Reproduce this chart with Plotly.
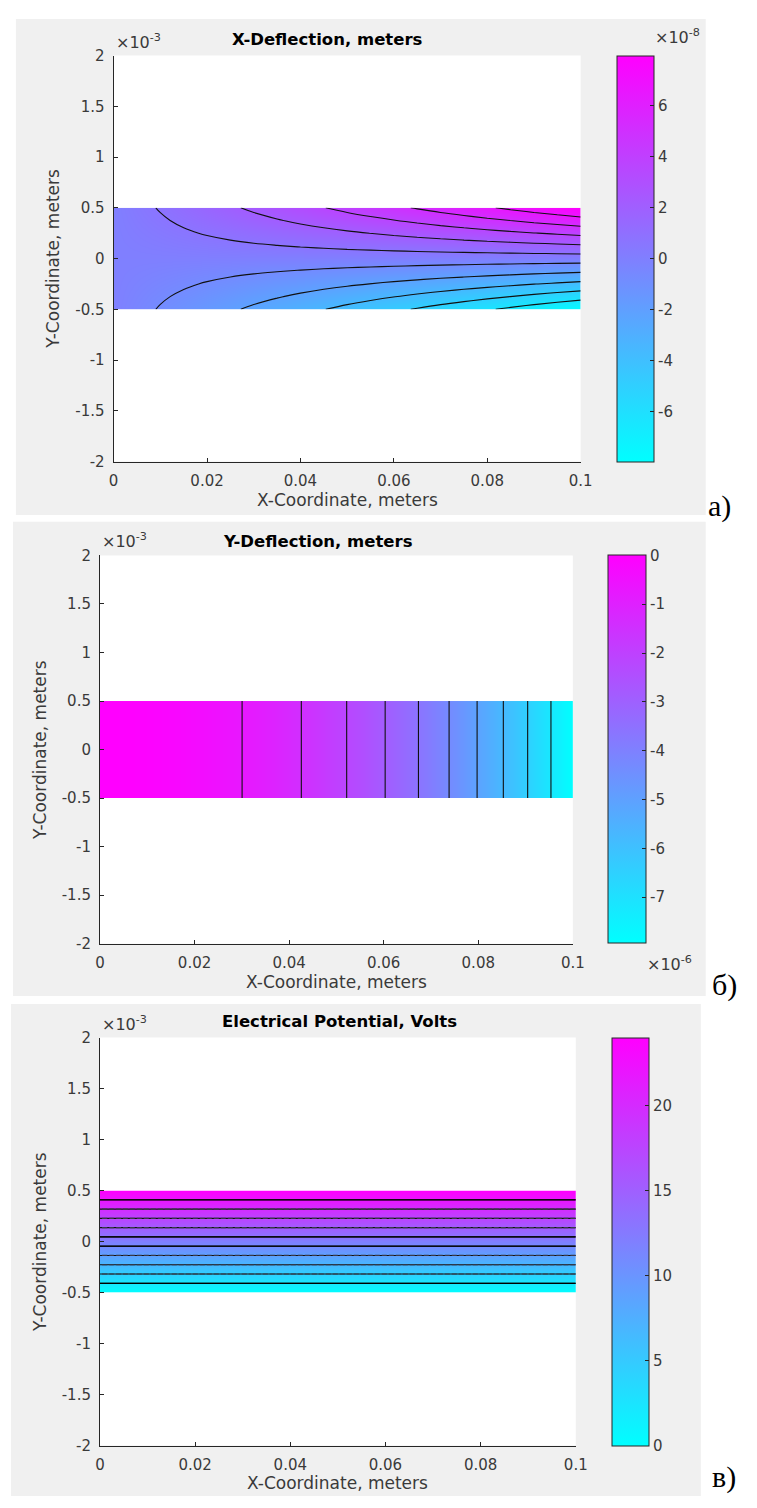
import plotly.graph_objects as go

# The page adds an 8 px body margin; the figure is sized so that page == 757x1508.
PAGE_W, PAGE_H, OFF = 757, 1508, 8
W, H = PAGE_W - 2 * OFF, PAGE_H - 2 * OFF

# ---------------- data ----------------
X_GRID = [0.0, 0.005, 0.01, 0.015, 0.02, 0.025, 0.03, 0.035, 0.04, 0.045, 0.05,
          0.055, 0.06, 0.065, 0.07, 0.075, 0.08, 0.085, 0.09, 0.095, 0.1]
Y_GRID = [-0.5e-3, -0.375e-3, -0.25e-3, -0.125e-3, 0.0, 0.125e-3, 0.25e-3, 0.375e-3, 0.5e-3]

# X-deflection (x1e-8 m) along the top face, and its through-thickness shape
UX_TOP = [0, 0.40, 0.80, 1.19, 1.59, 1.99, 2.39, 2.78, 3.18, 3.58, 3.98,
          4.37, 4.77, 5.17, 5.57, 5.96, 6.36, 6.76, 7.16, 7.55, 7.95]
UX_SHAPE = [-1, -0.75, -0.5, -0.25, 0, 0.25, 0.5, 0.75, 1]

# Y-deflection (x1e-6 m) along the beam (constant through thickness)
UY_ALONG = [0, -0.02, -0.08, -0.18, -0.32, -0.50, -0.72, -0.97, -1.27, -1.61, -1.99,
            -2.40, -2.86, -3.36, -3.90, -4.47, -5.09, -5.74, -6.44, -7.17, -7.95]

# Electrical potential (V) through the thickness (constant along the beam)
V_THICK = [0, 3, 6, 9, 12, 15, 18, 21, 24]
# which potential contour levels (1..10, bottom to top) look solid / dashed
V_SOLID_LEVELS = [1, 5, 6, 10]
V_DASHED_LEVELS = [2, 3, 4, 7, 8, 9]

X_TICKS = [0, 0.02, 0.04, 0.06, 0.08, 0.1]
X_TICKTEXT = ["0", "0.02", "0.04", "0.06", "0.08", "0.1"]
Y_TICKS = [-2e-3, -1.5e-3, -1e-3, -0.5e-3, 0, 0.5e-3, 1e-3, 1.5e-3, 2e-3]
Y_TICKTEXT = ["-2", "-1.5", "-1", "-0.5", "0", "0.5", "1", "1.5", "2"]

CB_A_TICKS = [-6, -4, -2, 0, 2, 4, 6]
CB_A_TEXT = ["-6", "-4", "-2", "0", "2", "4", "6"]
CB_B_TICKS = [0, -1, -2, -3, -4, -5, -6, -7]
CB_B_TEXT = ["0", "-1", "-2", "-3", "-4", "-5", "-6", "-7"]
CB_C_TICKS = [0, 5, 10, 15, 20]
CB_C_TEXT = ["0", "5", "10", "15", "20"]

TITLES = ["X-Deflection, meters", "Y-Deflection, meters", "Electrical Potential, Volts"]
LABELS = ["a)", "б)", "в)"]

# ---------------- tables built from the arrays ----------------
z_ux = [[s * v for v in UX_TOP] for s in UX_SHAPE]
z_uy = [list(UY_ALONG) for _ in Y_GRID]
z_v = [[v for _ in X_GRID] for v in V_THICK]

COOL = [[0, "#00ffff"], [1, "#ff00ff"]]
FONT = "DejaVu Sans, Arial, sans-serif"
AX_COL = "#262626"
TXT_COL = "#3a3a3a"


def px_x(p):
    return (p - OFF) / W


def px_y(p):
    return 1 - (p - OFF) / H


panels = [
    dict(L=111, R=589, T=47, B=458, cbL=626, cbR=663, bg=(11, 10, 717, 512),
         title_x=330, title_y=31, xlab_y=497, ylab_x=48, lab=(731, 503)),
    dict(L=97, R=581, T=553, B=946, cbL=617, cbR=655, bg=(8, 519, 717, 999),
         title_x=320, title_y=539, xlab_y=985, ylab_x=35, lab=(736, 988)),
    dict(L=97, R=584, T=1041, B=1454, cbL=621, cbR=658, bg=(6, 1007, 712, 1505),
         title_x=342, title_y=1025, xlab_y=1492, ylab_x=35, lab=(736, 1486)),
]

fields = [
    dict(z=z_ux, zmin=-7.95, zmax=7.95, step=15.9 / 11, ticks=CB_A_TICKS, text=CB_A_TEXT),
    dict(z=z_uy, zmin=-7.95, zmax=0.0, step=7.95 / 11, ticks=CB_B_TICKS, text=CB_B_TEXT),
    dict(z=z_v, zmin=0.0, zmax=24.0, step=24.0 / 11, ticks=CB_C_TICKS, text=CB_C_TEXT),
]

fig = go.Figure()
shapes = []
annotations = []

for i, (p, f) in enumerate(zip(panels, fields)):
    n = "" if i == 0 else str(i + 1)
    xa, ya = "x" + n, "y" + n
    split_lines = (i == 2)
    # filled field + contour lines (colour bar comes from the marker trace below)
    fig.add_trace(go.Contour(
        x=X_GRID, y=Y_GRID, z=f["z"], xaxis=xa, yaxis=ya,
        colorscale=COOL, zmin=f["zmin"], zmax=f["zmax"],
        autocontour=False,
        contours=dict(start=f["zmin"] + f["step"], end=f["zmax"] - f["step"] * 0.5,
                      size=f["step"], coloring="heatmap", showlines=not split_lines),
        line=dict(color="#111111", width=1.1),
        hoverinfo="skip", showscale=False,
    ))
    if split_lines:
        for lvls, col, dash in ((V_SOLID_LEVELS, "#000000", "solid"),
                                (V_DASHED_LEVELS, "#3a3a4a", "5px,2px")):
            for lv in lvls:
                val = f["zmin"] + f["step"] * lv
                fig.add_trace(go.Contour(
                    x=X_GRID, y=Y_GRID, z=f["z"], xaxis=xa, yaxis=ya,
                    autocontour=False,
                    contours=dict(start=val, end=val, size=f["step"], coloring="none"),
                    line=dict(color=col, width=1.2, dash=dash),
                    hoverinfo="skip", showscale=False,
                ))
    # invisible marker trace that only carries the smooth colour bar
    fig.add_trace(go.Scatter(
        x=[0.05], y=[1.9e-3], mode="markers", xaxis=xa, yaxis=ya, hoverinfo="skip",
        marker=dict(size=1, opacity=0, color=[f["zmin"]], colorscale=COOL,
                    cmin=f["zmin"], cmax=f["zmax"], showscale=True, line=dict(width=0),
                    colorbar=dict(
                        x=px_x(p["cbL"]), xanchor="left", xpad=0, ypad=0,
                        y=px_y(p["T"]), yanchor="top", len=(p["B"] - p["T"]) / H,
                        lenmode="fraction",
                        thickness=p["cbR"] - p["cbL"], thicknessmode="pixels",
                        outlinewidth=1, outlinecolor=AX_COL,
                        tickvals=f["ticks"], ticktext=f["text"],
                        ticks="inside", ticklen=4, tickcolor=AX_COL,
                        tickfont=dict(family=FONT, size=15, color=TXT_COL),
                    )),
    ))
    axis_common = dict(showline=True, linecolor=AX_COL, linewidth=1, mirror=False,
                       ticks="inside", ticklen=4, tickcolor=AX_COL, showgrid=False,
                       zeroline=False, tickfont=dict(family=FONT, size=15, color=TXT_COL))
    fig.layout["xaxis" + n] = dict(
        domain=[px_x(p["L"]), px_x(p["R"])], range=[0, 0.1], anchor=ya,
        tickvals=X_TICKS, ticktext=X_TICKTEXT, ticklabelstandoff=5, **axis_common)
    fig.layout["yaxis" + n] = dict(
        domain=[px_y(p["B"]), px_y(p["T"])], range=[-2e-3, 2e-3], anchor=xa,
        tickvals=Y_TICKS, ticktext=Y_TICKTEXT, ticklabelstandoff=5, **axis_common)

    x0, y0, x1, y1 = p["bg"]
    shapes.append(dict(type="rect", xref="paper", yref="paper",
                       x0=px_x(x0), x1=px_x(x1), y0=px_y(y1), y1=px_y(y0),
                       fillcolor="#f0f0f0", line=dict(width=0), layer="below"))
    shapes.append(dict(type="rect", xref="paper", yref="paper",
                       x0=px_x(p["L"]), x1=px_x(p["R"]), y0=px_y(p["B"]), y1=px_y(p["T"]),
                       fillcolor="white", line=dict(width=0), layer="below"))

    annotations.append(dict(text="<b>" + TITLES[i] + "</b>", xref="paper", yref="paper",
                            x=px_x(p["title_x"]), y=px_y(p["title_y"]), showarrow=False,
                            xanchor="center", yanchor="middle",
                            font=dict(family=FONT, size=16.5, color="black")))
    annotations.append(dict(text="×10<sup>-3</sup>", xref="paper", yref="paper",
                            x=px_x(p["L"]), y=px_y(p["T"] - 2), showarrow=False,
                            xanchor="left", yanchor="bottom",
                            font=dict(family=FONT, size=16, color=TXT_COL)))
    annotations.append(dict(text="X-Coordinate, meters", xref="paper", yref="paper",
                            x=px_x((p["L"] + p["R"]) / 2), y=px_y(p["xlab_y"]), showarrow=False,
                            xanchor="center", yanchor="middle",
                            font=dict(family=FONT, size=17, color=TXT_COL)))
    annotations.append(dict(text="Y-Coordinate, meters", xref="paper", yref="paper",
                            x=px_x(p["ylab_x"]), y=px_y((p["T"] + p["B"]) / 2), showarrow=False,
                            textangle=-90, xanchor="center", yanchor="middle",
                            font=dict(family=FONT, size=17, color=TXT_COL)))
    annotations.append(dict(text=LABELS[i], xref="paper", yref="paper",
                            x=px_x(p["lab"][0]), y=px_y(p["lab"][1]), showarrow=False,
                            xanchor="center", yanchor="middle",
                            font=dict(family="Liberation Serif, Times New Roman, serif",
                                      size=30, color="black")))

# colour-bar exponent labels
annotations.append(dict(text="×10<sup>-8</sup>", xref="paper", yref="paper",
                        x=px_x(663), y=px_y(40), showarrow=False, xanchor="left",
                        yanchor="bottom", font=dict(family=FONT, size=16, color=TXT_COL)))
annotations.append(dict(text="×10<sup>-6</sup>", xref="paper", yref="paper",
                        x=px_x(655), y=px_y(966), showarrow=False, xanchor="left",
                        yanchor="middle", font=dict(family=FONT, size=16, color=TXT_COL)))

fig.update_layout(width=W, height=H, margin=dict(l=0, r=0, t=0, b=0),
                  paper_bgcolor="white", plot_bgcolor="rgba(0,0,0,0)",
                  shapes=shapes, annotations=annotations, showlegend=False)

fig.write_html("out.html", config={"displayModeBar": False, "staticPlot": True})
